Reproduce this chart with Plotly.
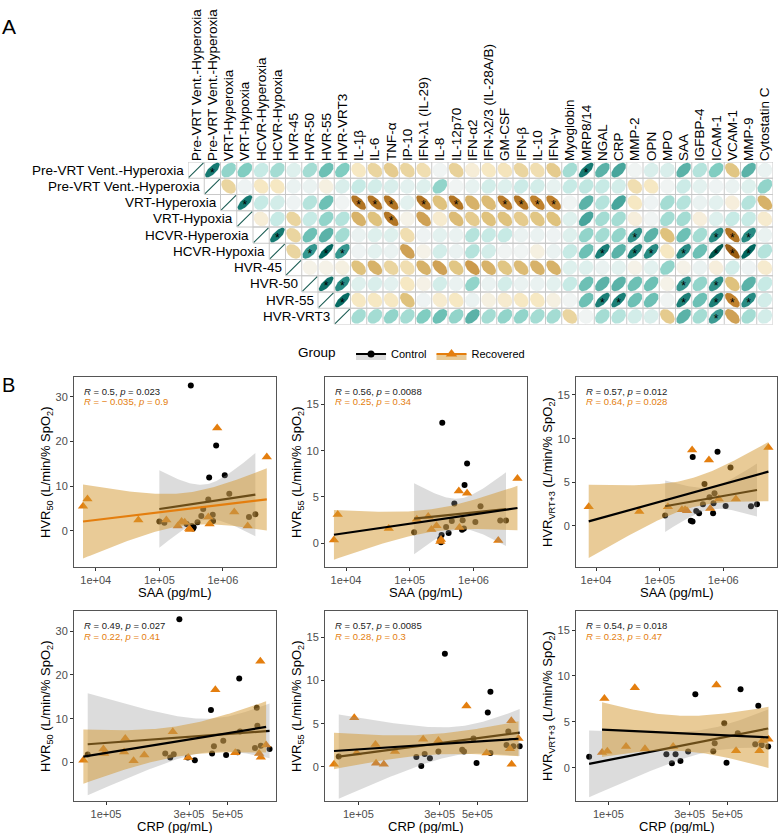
import numpy as np
import plotly.graph_objects as go
import plotly.colors as pc

W, H = 778, 833
FONT = "Liberation Sans, Arial, Helvetica, sans-serif"
ORANGE = "#E47E0E"

# ---------------- Panel A data ----------------
col_labels = ["Pre-VRT Vent.-Hyperoxia", "Pre-VRT Vent.-Hyperoxia", "VRT-Hyperoxia", "VRT-Hypoxia",
              "HCVR-Hyperoxia", "HCVR-Hypoxia", "HVR-45", "HVR-50", "HVR-55", "HVR-VRT3",
              "IL-1β", "IL-6", "TNF-α", "IP-10", "IFN-λ1 (IL-29)", "IL-8", "IL-12p70", "IFN-α2",
              "IFN-λ2/3 (IL-28A/B)", "GM-CSF", "IFN-β", "IL-10", "IFN-γ", "Myoglobin", "MRP8/14",
              "NGAL", "CRP", "MMP-2", "OPN", "MPO", "SAA", "IGFBP-4", "ICAM-1", "VCAM-1", "MMP-9",
              "Cytostatin C"]
row_labels = col_labels[:10]

# correlations of row i with columns i+1 .. 35
corr_r0 = [0.72, 0.35, 0.4, 0.2, 0.3, 0.1, 0.3, 0.45, 0.4, -0.2, -0.3, -0.35, -0.3, -0.25, 0.02, -0.32, -0.12,
           -0.2, -0.22, -0.3, -0.25, -0.35, 0.3, 0.72, 0.5, 0.55, 0.02, 0.12, 0.12, 0.5, 0.25, 0.4, -0.38, 0.5, 0.05]
corr_r1 = [-0.3, 0.03, -0.2, -0.2, 0.05, 0.05, -0.08, 0.12, 0.2, 0.15, 0.12, 0.08, 0.1, 0.35, 0.02, 0.06, 0.15,
           0.1, 0.18, 0.15, 0.06, 0.2, 0.22, 0.2, 0.15, -0.25, -0.2, 0.02, 0.18, 0.08, 0.03, 0.05, 0.1, 0.35]
corr_r2 = [0.72, 0.2, 0.15, 0.03, 0.25, 0.45, 0.02, -0.65, -0.65, -0.65, 0.08, -0.65, -0.4, -0.65, -0.45, -0.42,
           -0.62, -0.65, -0.6, -0.6, 0.02, 0.5, 0.25, 0.55, -0.2, 0.03, 0.3, 0.25, 0.05, 0.08, -0.1, 0.25, -0.45]
corr_r3 = [-0.12, 0.2, -0.3, 0.2, 0.35, 0.25, -0.45, -0.4, -0.65, -0.05, -0.5, -0.15, -0.42, -0.35, -0.4, -0.4,
           -0.35, -0.38, -0.4, 0.1, 0.55, 0.3, 0.3, -0.1, 0.02, 0.3, 0.3, -0.1, 0.1, 0.2, 0.2, -0.15]
corr_r4 = [0.72, -0.3, 0.45, 0.5, 0.3, 0.05, 0.1, 0.1, -0.25, 0.03, 0.08, 0.05, 0.25, 0.2, 0.2, 0.05, 0.05, 0.03,
           0.1, 0.35, 0.3, 0.35, 0.62, 0.5, -0.4, 0.45, 0.3, 0.65, -0.65, 0.65, 0.05]
corr_r5 = [-0.3, 0.6, 0.8, 0.6, 0.03, 0.08, 0.05, -0.5, -0.05, 0.15, 0.05, 0.25, 0.15, 0.02, 0.02, -0.08, 0.05,
           0.2, 0.45, 0.7, 0.5, 0.7, 0.65, -0.2, 0.65, 0.45, 0.85, -0.75, 0.8, 0.25]
corr_r6 = [-0.05, -0.05, -0.08, -0.4, -0.45, -0.3, -0.25, -0.45, -0.5, -0.38, -0.52, -0.45, -0.38, -0.42, -0.45,
           -0.45, 0.1, 0.1, 0.05, 0.08, -0.05, 0.08, 0.35, -0.05, 0.05, -0.1, 0.15, 0.03, -0.15]
corr_r7 = [0.75, 0.65, 0.1, 0.12, 0.08, -0.2, -0.06, 0.15, 0.05, 0.35, 0.05, 0.15, 0.05, 0.05, 0.08, 0.2, 0.45,
           0.5, 0.5, 0.45, 0.45, -0.05, 0.6, 0.35, 0.62, -0.4, 0.5, 0.2]
corr_r8 = [0.78, -0.2, -0.2, -0.2, -0.4, 0.03, -0.15, -0.2, 0.05, -0.08, -0.15, -0.2, -0.2, -0.08, 0.02, 0.45,
           0.7, 0.7, 0.45, 0.45, 0.02, 0.7, 0.45, 0.7, -0.6, 0.65, 0.15]
corr_r9 = [0.3, 0.3, 0.35, 0.3, 0.4, 0.45, 0.35, 0.5, 0.3, 0.35, 0.35, 0.3, 0.3, -0.3, 0.02, 0.3, 0.25, 0.15,
           0.12, -0.35, 0.5, 0.3, 0.58, -0.5, 0.3, 0.15]
corr_rows = [corr_r0, corr_r1, corr_r2, corr_r3, corr_r4, corr_r5, corr_r6, corr_r7, corr_r8, corr_r9]

# significant (p<0.05) columns for each row
sig_cols = [[1, 24], [], [3, 10, 11, 12, 14, 16, 19, 20, 21, 22], [12], [5, 27, 32, 33, 34],
            [7, 8, 9, 25, 27, 28, 30, 32, 33, 34], [], [8, 9, 30, 32], [9, 25, 26, 30, 32, 33, 34], [32]]

# ---------------- Panel B data ----------------
# P1: SAA vs HVR50
p1_ctrl_saa = [3.13e5, 7.83e5, 6.08e5, 1.07e6, 1.26e6, 5.89e5, 4.90e5, 4.57e5, 6.92e5, 7.00e5, 3.98e5, 3.24e5,
               3.47e5, 1.00e5, 1.20e5, 2.69e5, 2.57e6, 3.24e6, 3.39e5]
p1_ctrl_hvr = [32.5, 19.1, 11.9, 12.4, 8.3, 7.0, 4.9, 3.3, 3.6, 2.2, 1.9, 1.05, 0.8, 2.1, 1.8, 1.5, 3.1, 3.7, 0.5]
p1_rec_saa = [7.41e3, 6.31e3, 4.68e4, 1.29e5, 2.24e5, 2.51e5, 1.95e5, 3.02e5, 2.95e5, 8.13e5, 5.89e5, 6.17e5,
              1.51e6, 2.45e6, 4.90e6]
p1_rec_hvr = [7.1, 5.5, 2.4, 2.4, 2.1, 1.9, 1.05, 0.3, 0.5, 23.0, 3.1, 1.5, 4.2, 1.05, 16.5]
# P2: SAA vs HVR55
p2_ctrl_saa = [1.29e6, 5.01e5, 6.76e5, 4.57e5, 3.72e5, 1.07e6, 2.63e6, 3.24e6, 1.17e5, 3.16e5, 4.07e5, 3.02e5,
               6.61e5, 3.24e5, 7.94e5, 7.24e5, 3.09e5, 7.08e5]
p2_ctrl_hvr = [4.0, 4.3, 2.5, 2.4, 1.75, 2.3, 2.45, 2.45, 1.2, 0.9, 1.1, 0.5, 1.45, 13.0, 8.6, 6.3, 0.1, 1.6]
p2_rec_saa = [7.41e3, 6.46e3, 4.68e4, 1.29e5, 1.95e5, 2.19e5, 2.63e5, 3.02e5, 3.09e5, 5.89e5, 7.94e5, 6.03e5,
              2.45e6, 4.90e6]
p2_rec_hvr = [3.1, 0.35, 1.6, 2.6, 2.9, 1.5, 1.9, 0.2, 0.4, 5.65, 5.4, 1.7, 0.3, 7.0]
# P3: SAA vs HVR VRT+3
p3_ctrl_saa = [3.31e5, 8.13e5, 1.30e6, 5.07e5, 7.29e5, 6.08e5, 4.79e5, 7.03e5, 1.09e6, 2.73e6, 3.39e6, 3.76e5,
               4.17e5, 6.92e5, 1.22e5, 3.09e5, 3.29e5]
p3_ctrl_hvr = [7.9, 8.5, 6.7, 4.8, 3.75, 3.3, 2.5, 2.6, 2.3, 2.25, 2.5, 1.7, 1.45, 1.45, 1.2, 0.6, 0.5]
p3_rec_saa = [7.67e3, 4.79e4, 1.35e5, 2.24e5, 2.51e5, 2.69e5, 3.24e5, 5.96e5, 6.24e5, 8.51e5, 1.58e6, 5.13e6]
p3_rec_hvr = [2.2, 1.65, 2.2, 1.85, 1.85, 1.75, 8.7, 7.55, 2.0, 3.1, 3.1, 9.0]
# P4: CRP vs HVR50
p4_ctrl_crp = [2.64e5, 5.83e5, 4.01e5, 7.35e5, 7.41e5, 5.89e5, 4.72e5, 4.17e5, 7.76e5, 7.18e5, 8.71e5, 2.19e5,
               2.45e5, 2.34e5, 4.07e5, 5.71e5, 4.90e5, 2.95e5, 3.24e5, 7.85e4]
p4_ctrl_hvr = [32.7, 19.2, 12.0, 12.5, 8.4, 7.1, 4.95, 3.7, 3.8, 3.3, 3.05, 2.05, 1.9, 1.15, 2.05, 2.35, 1.7,
               1.15, 0.5, 1.8]
p4_rec_crp = [7.41e4, 9.66e4, 9.77e4, 1.29e5, 1.27e5, 1.44e5, 1.66e5, 2.42e5, 2.97e5, 4.25e5, 5.53e5, 7.71e5,
              7.59e5, 7.76e5, 8.32e5]
p4_rec_hvr = [0.5, 3.05, 2.05, 5.5, 2.4, 0.4, 1.7, 7.0, 1.15, 16.6, 2.2, 23.1, 2.05, 1.2, 4.0]
# P5: CRP vs HVR55
p5_ctrl_crp = [7.67e4, 3.22e5, 5.96e5, 5.75e5, 7.59e5, 4.74e5, 4.17e5, 4.07e5, 2.95e5, 2.45e5, 2.63e5, 2.19e5,
               2.34e5, 4.94e5, 5.96e5, 7.41e5, 8.13e5, 8.85e5]
p5_ctrl_hvr = [1.2, 13.1, 8.7, 6.3, 4.1, 3.3, 1.8, 2.0, 1.8, 1.5, 1.0, 1.15, 0.1, 0.45, 1.6, 2.55, 2.4, 2.4]
p5_rec_crp = [7.19e4, 9.46e4, 9.77e4, 1.26e5, 1.27e5, 1.41e5, 1.64e5, 2.40e5, 2.95e5, 4.31e5, 5.66e5, 7.91e5,
              7.76e5, 7.94e5, 8.71e5]
p5_rec_hvr = [0.3, 5.7, 1.6, 2.6, 0.42, 0.3, 1.8, 3.2, 3.05, 7.05, 1.6, 5.35, 2.1, 0.3, 3.3]
# P6: CRP vs HVR VRT+3
p6_ctrl_crp = [7.71e4, 3.24e5, 5.97e5, 7.59e5, 4.79e5, 5.75e5, 4.21e5, 2.19e5, 2.48e5, 2.94e5, 4.13e5, 2.36e5,
               2.65e5, 4.94e5, 7.28e5, 7.94e5, 8.67e5]
p6_ctrl_hvr = [1.2, 8.0, 8.55, 6.75, 4.85, 3.75, 2.65, 1.45, 1.45, 1.75, 1.8, 0.47, 0.73, 0.55, 2.55, 2.47, 2.3]
p6_rec_crp = [9.48e4, 9.18e4, 9.86e4, 1.43e5, 1.27e5, 1.64e5, 2.40e5, 4.31e5, 5.62e5, 7.71e5, 8.05e5, 8.71e5]
p6_rec_hvr = [7.55, 1.65, 1.8, 8.7, 2.3, 2.07, 2.3, 9.0, 1.85, 1.85, 2.95, 3.1]

stats_ctrl = ["<i>R</i> = 0.5, <i>p</i> = 0.023", "<i>R</i> = 0.56, <i>p</i> = 0.0088",
              "<i>R</i> = 0.57, <i>p</i> = 0.012", "<i>R</i> = 0.49, <i>p</i> = 0.027",
              "<i>R</i> = 0.57, <i>p</i> = 0.0085", "<i>R</i> = 0.54, <i>p</i> = 0.018"]
stats_rec = ["<i>R</i> = \u2212 0.035, <i>p</i> = 0.9", "<i>R</i> = 0.25, <i>p</i> = 0.34",
             "<i>R</i> = 0.64, <i>p</i> = 0.028", "<i>R</i> = 0.22, <i>p</i> = 0.41",
             "<i>R</i> = 0.28, <i>p</i> = 0.3", "<i>R</i> = 0.23, <i>p</i> = 0.47"]

T975 = {5: 2.571, 6: 2.447, 7: 2.365, 8: 2.306, 9: 2.262, 10: 2.228, 11: 2.201, 12: 2.179, 13: 2.160,
        14: 2.145, 15: 2.131, 16: 2.120, 17: 2.110, 18: 2.101, 19: 2.093, 20: 2.086, 21: 2.080, 22: 2.074}

BRBG = pc.diverging.BrBG


def corr_color(r):
    return pc.sample_colorscale(BRBG, [(r + 1) / 2])[0]


def ellipse(r, cx, cy, s=0.45, n=50):
    d = np.arccos(np.clip(r, -1, 1))
    t = np.linspace(0, 2 * np.pi, n)
    return cx + s * np.cos(t + d / 2), cy - s * np.cos(t - d / 2)


def fit_band(xv, yv, n=80):
    lx = np.log10(np.asarray(xv, float))
    y = np.asarray(yv, float)
    m = len(lx)
    xb, yb = lx.mean(), y.mean()
    sxx = ((lx - xb) ** 2).sum()
    b = ((lx - xb) * (y - yb)).sum() / sxx
    a = yb - b * xb
    s = np.sqrt(((y - a - b * lx) ** 2).sum() / (m - 2))
    g = np.linspace(lx.min(), lx.max(), n)
    fit = a + b * g
    se = s * np.sqrt(1 / m + (g - xb) ** 2 / sxx)
    t = T975[m - 2]
    return 10 ** g, fit, fit - t * se, fit + t * se


fig = go.Figure()

# ---------------- Panel A: correlation matrix ----------------
gx, gy = [], []
for r in range(10):
    for yy in (r - 0.5, r + 0.5):
        gx += [r - 0.5, 35.5, None]
        gy += [yy, yy, None]
    for c in range(r, 37):
        gx += [c - 0.5, c - 0.5, None]
        gy += [r - 0.5, r + 0.5, None]
fig.add_trace(go.Scatter(x=gx, y=gy, mode="lines", line=dict(color="#c9c9c9", width=1),
                         hoverinfo="skip", showlegend=False, xaxis="x", yaxis="y"))

for r, vals in enumerate(corr_rows):
    ex, ey = ellipse(1.0, r, r)
    fig.add_trace(go.Scatter(x=ex, y=ey, mode="lines", line=dict(color="#1d5e55", width=1.1),
                             hoverinfo="skip", showlegend=False, xaxis="x", yaxis="y"))
    for k, v in enumerate(vals):
        c = r + 1 + k
        ex, ey = ellipse(v, c, r)
        col = corr_color(v)
        fig.add_trace(go.Scatter(x=ex, y=ey, mode="lines", fill="toself", fillcolor=col,
                                 line=dict(color=col, width=0.1), hoverinfo="skip",
                                 showlegend=False, xaxis="x", yaxis="y"))

sx, sy = [], []
for r, cols in enumerate(sig_cols):
    for c in cols:
        sx.append(c)
        sy.append(r + 0.22)
fig.add_trace(go.Scatter(x=sx, y=sy, mode="text", text=["*"] * len(sx),
                         textfont=dict(size=12, color="black", family=FONT),
                         hoverinfo="skip", showlegend=False, xaxis="x", yaxis="y"))

annotations = []
for r, lab in enumerate(row_labels):
    annotations.append(dict(x=r - 0.5, y=r, xref="x", yref="y", text=lab, showarrow=False,
                            xanchor="right", yanchor="middle", xshift=-2,
                            font=dict(size=13.5, color="black", family=FONT)))

layout = dict(
    width=W, height=H, margin=dict(l=0, r=0, t=0, b=0), template="none",
    paper_bgcolor="white", plot_bgcolor="rgba(0,0,0,0)",
    font=dict(family=FONT, color="black"),
    xaxis=dict(domain=[188 / W, 773 / W], range=[-0.5, 35.5], side="top", tickmode="array",
               tickvals=list(range(36)), ticktext=col_labels, tickangle=-90, ticks="",
               tickfont=dict(size=13.5, color="black", family=FONT), showgrid=False, zeroline=False,
               showline=False, anchor="y", automargin=False, fixedrange=True),
    yaxis=dict(domain=[1 - 324.5 / H, 1 - 162 / H], range=[9.5, -0.5], showticklabels=False, ticks="",
               showgrid=False, zeroline=False, showline=False, anchor="x", automargin=False),
)

# ---------------- Panel B: scatter panels ----------------
frames = [(74, 276, 377, 567), (325, 527, 377, 567), (576, 777, 377, 567),
          (74, 276, 611, 801), (325, 527, 611, 801), (576, 777, 611, 801)]
xranges = [[3.658, 6.835], [3.67, 6.84], [3.685, 6.845], [4.816, 5.977], [4.804, 5.99], [4.81, 5.99]]
yranges = [[-8.1, 34.4], [-2.56, 17.95], [-4.7, 17.06], [-8.8, 34.6], [-3.94, 18.04], [-3.63, 17.07]]
ytick_sets = [[0, 10, 20, 30], [0, 5, 10, 15], [0, 5, 10, 15], [0, 10, 20, 30], [0, 5, 10, 15], [0, 5, 10, 15]]
xtick_saa = [1e4, 1e5, 1e6]
xtick_saa_txt = ["1e+04", "1e+05", "1e+06"]
xtick_crp = [1e5, 3e5, 5e5]
xtick_crp_txt = ["1e+05", "3e+05", "5e+05"]
ytitles = ["HVR<sub>50</sub> (L/min/% SpO<sub>2</sub>)", "HVR<sub>55</sub> (L/min/% SpO<sub>2</sub>)",
           "HVR<sub>VRT+3</sub> (L/min/% SpO<sub>2</sub>)"] * 2
xtitles = ["SAA (pg/mL)"] * 3 + ["CRP (pg/mL)"] * 3
data = [(p1_ctrl_saa, p1_ctrl_hvr, p1_rec_saa, p1_rec_hvr),
        (p2_ctrl_saa, p2_ctrl_hvr, p2_rec_saa, p2_rec_hvr),
        (p3_ctrl_saa, p3_ctrl_hvr, p3_rec_saa, p3_rec_hvr),
        (p4_ctrl_crp, p4_ctrl_hvr, p4_rec_crp, p4_rec_hvr),
        (p5_ctrl_crp, p5_ctrl_hvr, p5_rec_crp, p5_rec_hvr),
        (p6_ctrl_crp, p6_ctrl_hvr, p6_rec_crp, p6_rec_hvr)]
rec_line_colors = [ORANGE, "black", "black", "black", "black", "black"]
CTRL_FILL = "rgba(150,150,150,0.33)"
REC_FILL = "rgba(212,152,48,0.5)"

for i in range(6):
    k = i + 2
    xa, ya = f"x{k}", f"y{k}"
    cx, cy, rx, ry = data[i]
    fig.add_trace(go.Scatter(x=cx, y=cy, mode="markers", marker=dict(color="black", size=6, symbol="circle"),
                             showlegend=False, xaxis=xa, yaxis=ya, hoverinfo="skip"))
    fig.add_trace(go.Scatter(x=rx, y=ry, mode="markers",
                             marker=dict(color=ORANGE, size=9, symbol="triangle-up"),
                             showlegend=False, xaxis=xa, yaxis=ya, hoverinfo="skip"))
    for (xv, yv, fillc, linec) in [(cx, cy, CTRL_FILL, "black"), (rx, ry, REC_FILL, rec_line_colors[i])]:
        gxv, fit, lo, hi = fit_band(xv, yv)
        fig.add_trace(go.Scatter(x=np.concatenate([gxv, gxv[::-1]]), y=np.concatenate([hi, lo[::-1]]),
                                 mode="lines", fill="toself", fillcolor=fillc, line=dict(width=0),
                                 showlegend=False, xaxis=xa, yaxis=ya, hoverinfo="skip"))
        fig.add_trace(go.Scatter(x=gxv, y=fit, mode="lines", line=dict(color=linec, width=2.2),
                                 showlegend=False, xaxis=xa, yaxis=ya, hoverinfo="skip"))

    x0, x1, y0, y1 = frames[i]
    saa = i < 3
    layout[f"xaxis{k}"] = dict(
        domain=[x0 / W, x1 / W], anchor=ya, type="log", range=xranges[i],
        tickmode="array", tickvals=xtick_saa if saa else xtick_crp,
        ticktext=xtick_saa_txt if saa else xtick_crp_txt,
        ticks="outside", ticklen=3, tickwidth=1, tickcolor="#333333",
        tickfont=dict(size=11, color="#4d4d4d", family=FONT),
        showline=True, linecolor="#555555", linewidth=1, mirror=True,
        showgrid=False, zeroline=False, automargin=False)
    layout[f"yaxis{k}"] = dict(
        domain=[1 - y1 / H, 1 - y0 / H], anchor=xa, range=yranges[i],
        tickmode="array", tickvals=ytick_sets[i],
        ticks="outside", ticklen=3, tickwidth=1, tickcolor="#333333",
        tickfont=dict(size=11, color="#4d4d4d", family=FONT),
        showline=True, linecolor="#555555", linewidth=1, mirror=True,
        showgrid=False, zeroline=False, automargin=False)

    annotations.append(dict(x=(x0 + x1) / 2 / W, y=1 - (y1 + 25.5) / H, xref="paper", yref="paper",
                            text=xtitles[i], showarrow=False, xanchor="center", yanchor="middle",
                            font=dict(size=13, color="black", family=FONT)))
    annotations.append(dict(x=(x0 - 28) / W, y=1 - (y0 + y1) / 2 / H, xref="paper", yref="paper",
                            text=ytitles[i], showarrow=False, textangle=-90, xanchor="center",
                            yanchor="middle", font=dict(size=13, color="black", family=FONT)))
    annotations.append(dict(x=(x0 + 8) / W, y=1 - (y0 + 14) / H, xref="paper", yref="paper",
                            text=stats_ctrl[i], showarrow=False, xanchor="left", yanchor="middle",
                            font=dict(size=9.5, color="#222222", family=FONT)))
    annotations.append(dict(x=(x0 + 8) / W, y=1 - (y0 + 25) / H, xref="paper", yref="paper",
                            text=stats_rec[i], showarrow=False, xanchor="left", yanchor="middle",
                            font=dict(size=9.5, color=ORANGE, family=FONT)))

# legend entries
fig.add_trace(go.Scatter(x=[None], y=[None], name="Control", mode="lines+markers", fill="toself",
                         fillcolor=CTRL_FILL, line=dict(color="black", width=2.2),
                         marker=dict(color="black", size=7, symbol="circle"), xaxis="x2", yaxis="y2"))
fig.add_trace(go.Scatter(x=[None], y=[None], name="Recovered", mode="lines+markers", fill="toself",
                         fillcolor=REC_FILL, line=dict(color=ORANGE, width=2.2),
                         marker=dict(color=ORANGE, size=10, symbol="triangle-up"), xaxis="x2", yaxis="y2"))

annotations.append(dict(x=0, y=1 - 26 / H, xref="paper", yref="paper", text="A", showarrow=False,
                        xanchor="left", yanchor="middle", font=dict(size=21, color="black", family=FONT)))
annotations.append(dict(x=0, y=1 - 385 / H, xref="paper", yref="paper", text="B", showarrow=False,
                        xanchor="left", yanchor="middle", font=dict(size=20, color="black", family=FONT)))

layout["annotations"] = annotations
layout["showlegend"] = True
layout["legend"] = dict(orientation="h", x=296 / W, y=1 - 354 / H, xanchor="left", yanchor="middle",
                        title=dict(text="Group  ", font=dict(size=13.5, color="black", family=FONT)),
                        font=dict(size=11, color="black", family=FONT), bgcolor="rgba(0,0,0,0)",
                        itemwidth=30, tracegroupgap=0)
fig.update_layout(**layout)
fig.write_html("out.html")
